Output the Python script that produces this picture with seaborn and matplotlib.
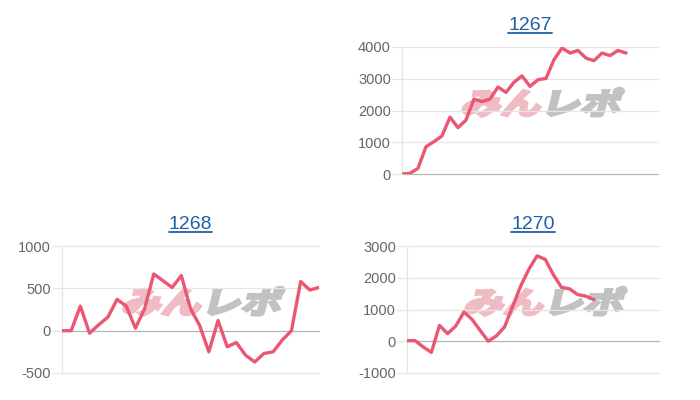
import numpy as np
import pandas as pd
import matplotlib
matplotlib.use('Agg')
import matplotlib.pyplot as plt
import seaborn as sns
from matplotlib.textpath import TextPath
from matplotlib.patches import PathPatch
from matplotlib.font_manager import FontProperties
from matplotlib.transforms import Affine2D
from matplotlib.lines import Line2D


# datos de cada maquina (diferencia de fichas por juego)
titulos = ['1267', '1268', '1270']

valores_1267 = [0, 20, 180, 860, 1020, 1200, 1790, 1460, 1700, 2360, 2280, 2360,
                2740, 2570, 2890, 3090, 2760, 2970, 3010, 3600, 3970, 3810, 3890,
                3650, 3570, 3810, 3730, 3890, 3810]
valores_1268 = [0, 0, 290, -30, 70, 160, 370, 290, 30, 260, 670, 590, 510, 650,
                260, 60, -250, 120, -190, -140, -290, -370, -270, -250, -110, 0,
                580, 480, 510]
valores_1270 = [20, 20, -180, -350, 500, 240, 480, 920, 690, 340, 0, 170, 450,
                1100, 1750, 2270, 2690, 2580, 2100, 1700, 1650, 1470, 1420, 1310]

n_etiquetas = [33, 29, 32]
ticks_y = [[0, 1000, 2000, 3000, 4000],
           [-500, 0, 500, 1000],
           [-1000, 0, 1000, 2000, 3000]]

sns.set_theme(style='white')
plt.rcParams['font.family'] = ['Liberation Sans', 'DejaVu Sans']

COLOR_LINEA = '#eb5673'
COLOR_GRID = '#e5e5e5'

fig = plt.figure(figsize=(7, 4), dpi=100)

# posiciones de los paneles en pixeles [izq, der, arriba, abajo]
paneles = [(402, 658, 47, 174), (62, 319, 246, 373), (407, 659, 246, 373)]


def marca_agua(ax):
    fp = FontProperties(family='Noto Sans CJK JP', weight='bold')
    cx, cy = ax.transAxes.transform((0.55, 0.56))
    tr = (Affine2D().translate(-2, -0.38).scale(40, 30)
          .skew_deg(14, 0).translate(cx, cy))
    p1 = TextPath((0, 0), 'みん', prop=fp, size=1)
    p2 = TextPath((2, 0), 'レポ', prop=fp, size=1)
    ax.add_artist(PathPatch(p1, transform=tr, facecolor='#f0bcc3',
                            edgecolor='#f0bcc3', lw=2.2, zorder=0.5))
    ax.add_artist(PathPatch(p2, transform=tr, facecolor='#c2c2c2',
                            edgecolor='#c2c2c2', lw=2.2, zorder=0.5))


ejes = []
for (izq, der, arr, aba), titulo, valores, n, ticks in zip(
        paneles, titulos, [valores_1267, valores_1268, valores_1270],
        n_etiquetas, ticks_y):
    ax = fig.add_axes([izq / 700, (400 - aba) / 400, (der - izq) / 700, (aba - arr) / 400])
    df = pd.DataFrame({'juego': np.arange(len(valores)), 'valor': valores})
    marca_agua(ax)
    sns.lineplot(data=df, x='juego', y='valor', ax=ax, color=COLOR_LINEA,
                 linewidth=2.4, zorder=3)
    ax.set_xlim(0, n - 1)
    ax.set_ylim(ticks[0], ticks[-1])
    ax.set_yticks(ticks)
    ax.set_yticklabels([str(t) for t in ticks])
    ax.set_xticks([])
    ax.set_xlabel('')
    ax.set_ylabel('')
    for t in ticks:
        ax.axhline(t, color='#b5b5b5' if t == 0 else COLOR_GRID, lw=0.9,
                   zorder=1, clip_on=False)
    for lado in ['top', 'right', 'bottom']:
        ax.spines[lado].set_visible(False)
    ax.spines['left'].set_color(COLOR_GRID)
    ax.spines['left'].set_linewidth(0.9)
    ax.tick_params(axis='y', length=7, width=0.9, color=COLOR_GRID, pad=1,
                   labelsize=10.5, labelcolor='#666666', left=True)
    ax.set_title(titulo, fontsize=14, color='#1f5fa6', pad=12)
    ejes.append(ax)

# subrayado de los titulos (son enlaces)
fig.canvas.draw()
rend = fig.canvas.get_renderer()
for ax in ejes:
    bb = ax.title.get_window_extent(rend)
    y = bb.y0 + 1
    fig.add_artist(Line2D([bb.x0 / 700, bb.x1 / 700], [y / 400, y / 400],
                          color='#1f5fa6', lw=1.3, transform=fig.transFigure))

fig.savefig('out.png', dpi=100, facecolor='white')
